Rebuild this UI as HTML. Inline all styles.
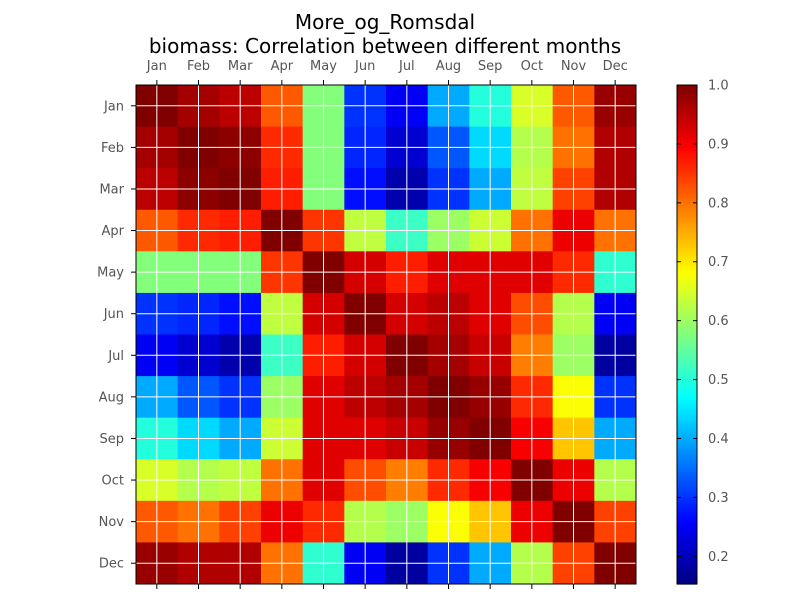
<!DOCTYPE html>
<html><head><meta charset="utf-8"><style>
body{margin:0;background:#fff;width:800px;height:600px;overflow:hidden}
text{font-family:"DejaVu Sans","Liberation Sans",sans-serif}
</style></head><body>
<svg id="chart" width="800" height="600" xmlns="http://www.w3.org/2000/svg">
<text x="385" y="29" text-anchor="middle" font-size="20">More_og_Romsdal</text>
<text x="385" y="53" text-anchor="middle" font-size="20">biomass: Correlation between different months</text>
<g id="cells"></g><g id="grid"></g><g id="axes"></g><g id="cbar"></g>
</svg>
<script>
const months = ["Jan","Feb","Mar","Apr","May","Jun","Jul","Aug","Sep","Oct","Nov","Dec"];
const rowJan = [1.00,0.97,0.95,0.82,0.58,0.30,0.25,0.40,0.50,0.65,0.82,0.98];
const rowFeb = [0.97,1.00,0.99,0.86,0.58,0.29,0.22,0.33,0.44,0.62,0.80,0.96];
const rowMar = [0.95,0.99,1.00,0.87,0.58,0.27,0.19,0.30,0.40,0.63,0.84,0.96];
const rowApr = [0.82,0.86,0.87,1.00,0.85,0.63,0.52,0.60,0.64,0.80,0.91,0.80];
const rowMay = [0.58,0.58,0.58,0.85,1.00,0.93,0.87,0.92,0.92,0.92,0.86,0.51];
const rowJun = [0.30,0.29,0.27,0.63,0.93,1.00,0.93,0.95,0.92,0.83,0.62,0.25];
const rowJul = [0.25,0.22,0.19,0.52,0.87,0.93,1.00,0.97,0.94,0.79,0.60,0.18];
const rowAug = [0.40,0.33,0.30,0.60,0.92,0.95,0.97,1.00,0.98,0.86,0.68,0.30];
const rowSep = [0.50,0.44,0.40,0.64,0.92,0.92,0.94,0.98,1.00,0.90,0.73,0.40];
const rowOct = [0.65,0.62,0.63,0.80,0.92,0.83,0.79,0.86,0.90,1.00,0.91,0.62];
const rowNov = [0.82,0.80,0.84,0.91,0.86,0.62,0.60,0.68,0.73,0.91,1.00,0.84];
const rowDec = [0.98,0.96,0.96,0.80,0.51,0.25,0.18,0.30,0.40,0.62,0.84,1.00];
const cbarTicks = [0.2,0.3,0.4,0.5,0.6,0.7,0.8,0.9,1.0];
const matrix = [rowJan,rowFeb,rowMar,rowApr,rowMay,rowJun,rowJul,rowAug,rowSep,rowOct,rowNov,rowDec];

const NS="http://www.w3.org/2000/svg";
const X0=136,X1=636,Y0=85,Y1=584, VMIN=0.153, VMAX=1.0;
const cw=(X1-X0)/12, ch=(Y1-Y0)/12;
const xPos=i=>X0+i*cw, yPos=j=>Y0+j*ch;
const cbX=677,cbW=20;
const cbY=v=>Y1-(v-VMIN)/(VMAX-VMIN)*(Y1-Y0);
function jet(v){
  let t=(v-VMIN)/(VMAX-VMIN); t=Math.max(0,Math.min(1,t));
  const f=x=>Math.max(0,Math.min(1,x));
  const r=f(Math.min(4*t-1.5,-4*t+4.5)), g=f(Math.min(4*t-0.5,-4*t+3.5)), b=f(Math.min(4*t+0.5,-4*t+2.5));
  return `rgb(${Math.round(r*255)},${Math.round(g*255)},${Math.round(b*255)})`;
}
function mk(tag,attrs,parent){const e=document.createElementNS(NS,tag);for(const k in attrs)e.setAttribute(k,attrs[k]);parent.appendChild(e);return e;}
const cells=document.getElementById('cells'),grid=document.getElementById('grid'),axes=document.getElementById('axes'),cbar=document.getElementById('cbar');
matrix.forEach((row,j)=>row.forEach((v,i)=>{
  const r=mk('rect',{x:xPos(i),y:yPos(j),width:cw+0.5,height:ch+0.5,fill:jet(v)},cells);
  
  
}));
months.forEach((m,i)=>{
  const cx=xPos(i)+cw/2, cy=yPos(i)+ch/2;
  mk('line',{x1:cx,y1:Y0,x2:cx,y2:Y1,stroke:'#fff','stroke-width':1},grid);
  mk('line',{x1:X0,y1:cy,x2:X1,y2:cy,stroke:'#fff','stroke-width':1},grid);
  mk('line',{x1:cx,y1:Y0,x2:cx,y2:Y0-5,stroke:'#000'},axes);
  mk('line',{x1:cx,y1:Y1,x2:cx,y2:Y1+5,stroke:'#000'},axes);
  mk('line',{x1:X0,y1:cy,x2:X0-5,y2:cy,stroke:'#000'},axes);
  const tx=mk('text',{x:cx,y:Y0-15,'text-anchor':'middle','font-size':13,fill:'#555'},axes);tx.textContent=m;
  
  
  const ty=mk('text',{x:X0-12,y:cy+4.5,'text-anchor':'end','font-size':13,fill:'#555'},axes);ty.textContent=m;
  
  
});
for(let k=0;k<200;k++){
  const v0=VMIN+(VMAX-VMIN)*k/200, v1=VMIN+(VMAX-VMIN)*(k+1)/200;
  mk('rect',{x:cbX,y:cbY(v1),width:cbW,height:cbY(v0)-cbY(v1)+0.6,fill:jet((v0+v1)/2)},cbar);
}
const cbFrame=mk('rect',{x:cbX,y:Y0,width:cbW,height:Y1-Y0,fill:'none',stroke:'#000'},cbar);


cbarTicks.forEach(v=>{
  const y=cbY(v);
  mk('line',{x1:cbX+cbW,y1:y,x2:cbX+cbW-4,y2:y,stroke:'#000'},cbar);
  mk('line',{x1:cbX,y1:y,x2:cbX+4,y2:y,stroke:'#000'},cbar);
  const t=mk('text',{x:cbX+cbW+11,y:y+4.5,'font-size':13,fill:'#555'},cbar);t.textContent=v.toFixed(1);
  
  
});
mk('rect',{x:X0,y:Y0,width:X1-X0,height:Y1-Y0,fill:'none',stroke:'#000'},axes);
</script>
</body></html>
